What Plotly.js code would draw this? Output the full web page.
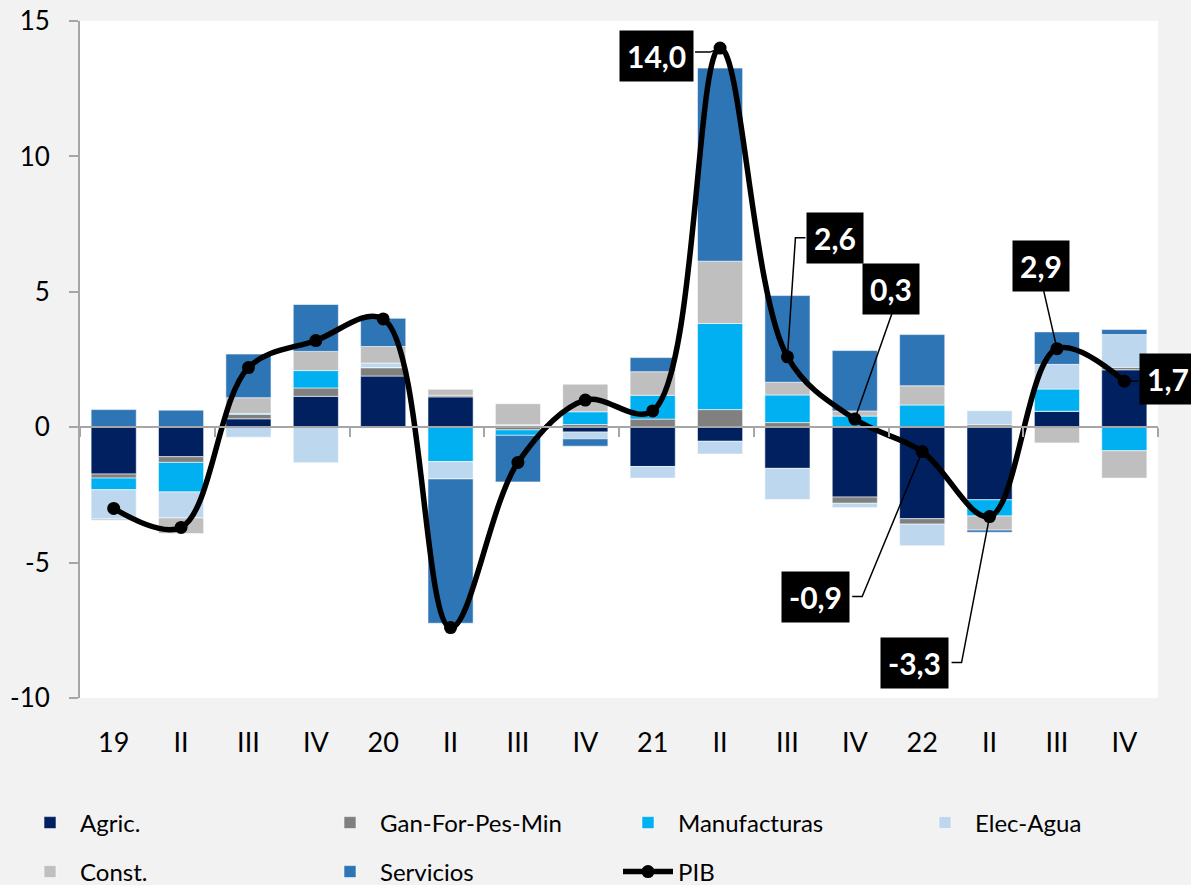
<!DOCTYPE html>
<html>
<head>
<meta charset="utf-8">
<script src="https://cdn.plot.ly/plotly-3.0.1.min.js"></script>
<style>html,body{margin:0;padding:0;background:#f2f2f2;}#chart{width:1191px;height:885px;}</style>
</head>
<body>
<div id="chart"></div>
<script>
// ---- data ----
const periods = ["2019-I","2019-II","2019-III","2019-IV","2020-I","2020-II","2020-III","2020-IV",
                 "2021-I","2021-II","2021-III","2021-IV","2022-I","2022-II","2022-III","2022-IV"];
const tickLabels = ["19","II","III","IV","20","II","III","IV","21","II","III","IV","22","II","III","IV"];

const agric      = [-1.73,-1.09, 0.31, 1.14, 1.89, 1.12, 0.06,-0.18,-1.45,-0.52,-1.52,-2.58,-3.38,-2.68, 0.59, 2.12];
const ganForPes  = [-0.15,-0.21, 0.16, 0.31, 0.31, 0.06,-0.10, 0.10, 0.30, 0.65, 0.17,-0.23,-0.20, 0.09, 0.00, 0.09];
const manuf      = [-0.43,-1.09, 0.04, 0.64, 0.00,-1.27,-0.20, 0.47, 0.88, 3.18, 1.02, 0.41, 0.82,-0.60, 0.82,-0.87];
const elecAgua   = [-1.08,-0.96,-0.37,-1.31, 0.17,-0.64, 0.03,-0.25,-0.43,-0.47,-1.15,-0.16,-0.80, 0.52, 0.91, 1.21];
const constr     = [-0.05,-0.58, 0.58, 0.71, 0.61, 0.22, 0.78, 1.02, 0.87, 2.30, 0.47, 0.19, 0.71,-0.52,-0.58,-1.01];
const servicios  = [ 0.65, 0.63, 1.61, 1.73, 1.04,-5.33,-1.72,-0.27, 0.52, 7.13, 3.20, 2.23, 1.89,-0.08, 1.20, 0.19];
const pib        = [-3.0,-3.7, 2.2, 3.2, 4.0,-7.4,-1.3, 1.0, 0.6, 14.0, 2.6, 0.3,-0.9,-3.3, 2.9, 1.7];

const yTickVals = [-10,-5,0,5,10,15];
const yTickText = ["-10","-5","0","5","10","15"];

const labeledIdx = [9,10,11,12,13,14,15];

// ---- layout helpers (positions / styles) ----
// label box centre offsets in screen pixels (right, down) relative to the point,
// and leader-line paths in pixels relative to the point (y up)
const labelPlacement = {
  9:  {off:[-64, 8],    path:"M -25,-4 L -10,-4 L 0,0"},
  10: {off:[48, -119],  path:"M 18,119 L 8,119 L 0,0"},
  11: {off:[36, -130],  path:"M 38,108 L 0,0"},
  12: {off:[-107, 145], path:"M -70,-145 L -60,-145 L 0,0"},
  13: {off:[-75, 146],  path:"M -38,-146 L -28,-146 L 0,0"},
  14: {off:[-16, -83],  path:"M -14,61 L 0,0"},
  15: {off:[44, -2],    path:"M 14,0 L 0,0"}
};

const FONT = "Lato, 'Open Sans', sans-serif";
const barLine = {color:"rgba(255,255,255,0.7)", width:0.8};
function bar(name, vals, color, legendId){
  return {type:"bar", name:name, x:periods, y:vals, marker:{color:color, line:barLine},
          hoverinfo:"name+y", legend:legendId};
}
const traces = [
  bar("Agric.", agric, "#002060", "legend"),
  bar("Gan-For-Pes-Min", ganForPes, "#808080", "legend2"),
  bar("Manufacturas", manuf, "#00b0f0", "legend3"),
  bar("Elec-Agua", elecAgua, "#bdd7ee", "legend4"),
  bar("Const.", constr, "#bfbfbf", "legend5"),
  bar("Servicios", servicios, "#2e75b6", "legend6"),
  {type:"scatter", mode:"lines+markers", name:"PIB", x:periods, y:pib,
   line:{color:"#000", width:5.5, shape:"spline", smoothing:1},
   marker:{color:"#000", size:13}, legend:"legend7"},
  // empty helper trace so that the zero-line axis (x2) is drawn
  {type:"scatter", x:[], y:[], xaxis:"x2", showlegend:false, hoverinfo:"skip"}
];

const yMin = -10, yMax = 15;
const boundaries = [];
for (let i = 0; i <= periods.length; i += 2) boundaries.push(i - 0.5);

const annotations = labeledIdx.map(i => ({
  x: periods[i], y: pib[i], xref:"x", yref:"y",
  text: pib[i].toFixed(1).replace(".", ","),
  showarrow:false,
  xshift: labelPlacement[i].off[0], yshift: -labelPlacement[i].off[1],
  bgcolor:"#000", borderpad:7,
  font:{family:FONT, size:30, color:"#fff", weight:"bold"}
}));

const shapes = labeledIdx.map(i => ({
  type:"path", xref:"x", yref:"y",
  xsizemode:"pixel", ysizemode:"pixel",
  xanchor: periods[i], yanchor: pib[i],
  path: labelPlacement[i].path,
  line:{color:"#000", width:1.5}, layer:"above"
}));

function legendAt(textX, rowY){
  return {orientation:"h", xref:"container", yref:"container",
          x:(textX - 60)/1191, y:1 - rowY/885, xanchor:"left", yanchor:"middle",
          itemwidth:50, bgcolor:"rgba(0,0,0,0)",
          font:{family:FONT, size:24, color:"#000"}};
}

const layout = {
  width:1191, height:885,
  margin:{l:80, r:33, t:21, b:187},
  paper_bgcolor:"#f2f2f2", plot_bgcolor:"#ffffff",
  barmode:"relative", bargap:0.33,
  font:{family:FONT, size:24, color:"#000"},
  showlegend:true,
  xaxis:{type:"category", categoryorder:"array", categoryarray:periods,
         range:[-0.5, periods.length - 0.5],
         tickvals:periods, ticktext:tickLabels, ticks:"", showline:false,
         showgrid:false, zeroline:false, ticklabelstandoff:26,
         tickfont:{family:FONT, size:27, color:"#000"}},
  xaxis2:{overlaying:"x", anchor:"free", position:(0 - yMin)/(yMax - yMin),
          range:[-0.5, periods.length - 0.5], tickvals:boundaries, ticks:"outside",
          ticklen:9, tickwidth:2, tickcolor:"#a6a6a6", showline:true,
          linecolor:"#a6a6a6", linewidth:2, showticklabels:false,
          showgrid:false, zeroline:false, fixedrange:true},
  yaxis:{range:[yMin, yMax], tickvals:yTickVals, ticktext:yTickText,
         ticks:"outside", ticklen:9, tickwidth:2, tickcolor:"#a6a6a6",
         showline:true, linecolor:"#a6a6a6", linewidth:2,
         showgrid:false, zeroline:false, ticklabelstandoff:14,
         tickfont:{family:FONT, size:26, color:"#000"}},
  legend:  legendAt(80, 823),
  legend2: legendAt(380, 823),
  legend3: legendAt(678, 823),
  legend4: legendAt(975, 823),
  legend5: legendAt(80, 872),
  legend6: legendAt(380, 872),
  legend7: legendAt(678, 872),
  annotations:annotations,
  shapes:shapes
};

Plotly.newPlot("chart", traces, layout, {displayModeBar:false, staticPlot:true});
</script>
</body>
</html>
